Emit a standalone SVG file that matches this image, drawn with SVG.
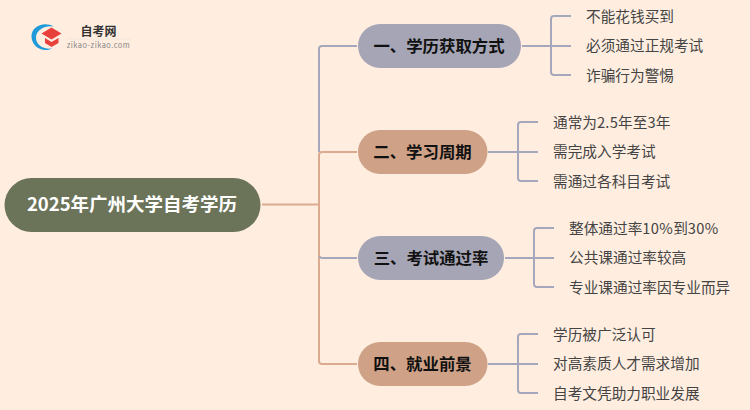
<svg xmlns="http://www.w3.org/2000/svg" width="750" height="410" viewBox="0 0 750 410">
<style>
text{font-family:"Noto Sans CJK SC","Noto Sans",sans-serif}
.c{fill:none;stroke-width:2;stroke-linejoin:round}
.p{stroke:#A5A8BD}
.o{stroke:#DBAA90}
.t{font-size:16.4px;font-weight:700;fill:#111;text-anchor:middle;dominant-baseline:central}
.l{font-size:14.67px;fill:#444;dominant-baseline:central}
</style>
<rect width="750" height="410" fill="#FFEEE0"/>
<g id="connectors">
<path class="c o" d="M262 204.500H319"/>
<path class="c p" d="M357 46H322Q319 46 319 49V152"/>
<path class="c o" d="M357 152H322Q319 152 319 155V205"/>
<path class="c o" d="M319 205V361Q319 364 322 364H357"/>
<path class="c p" d="M357 258H322Q320 258 319.500 256"/>
<path class="c o" d="M319 205V256"/>
<path class="c p" d="M522 46H571M571 16H554Q551 16 551 19V72Q551 75 554 75H571"/>
<path class="c p" d="M488 152H538M538 122H521Q518 122 518 125V178Q518 181 521 181H538"/>
<path class="c p" d="M505 258H554M554 228H537Q534 228 534 231V284Q534 287 537 287H554"/>
<path class="c p" d="M488 364H538M538 334H521Q518 334 518 337V390Q518 393 521 393H538"/>
</g>
<g id="logo">
<path d="M54 26.500C44 21 31 26 31.500 37C32 47 43 53 52 48.500C43 49.500 36 45 36 37.500C36 30 45 25 54 26.500Z" fill="#1E9BD8"/>
<path d="M41.500 33.500L51.500 27.500L61.500 33.500L51.500 39.500Z" fill="#E8413C"/>
<path d="M45 38L51.500 42L58.500 38V43L51.500 47L45 43Z" fill="#E8413C"/>
<text x="98.500" y="30" font-size="12" font-weight="700" fill="#333" text-anchor="middle" dominant-baseline="central">自考网</text>
<path d="M66 39H131" stroke="#F2E6DC" stroke-width="1"/>
<text x="98.500" y="44.500" font-size="7.500" fill="#888" text-anchor="middle" letter-spacing=".45" dominant-baseline="central">zikao-zikao.com</text>
</g>
<g id="root">
<rect x="4.500" y="178" width="256" height="54" rx="27" fill="#6B7359"/>
<text x="132" y="203" font-size="18.500" font-weight="700" fill="#fff" text-anchor="middle" dominant-baseline="central">2025年广州大学自考学历</text>
</g>
<g id="b1">
<rect x="358" y="24" width="163" height="44" rx="22" fill="#A5A5B5"/>
<text class="t" x="439" y="44.500">一、学历获取方式</text>
</g>
<g id="b2">
<rect x="358" y="130" width="129.500" height="44" rx="22" fill="#CFA287"/>
<text class="t" x="422.500" y="150.500">二、学习周期</text>
</g>
<g id="b3">
<rect x="358" y="236" width="146" height="44" rx="22" fill="#A5A5B5"/>
<text class="t" x="431" y="256.500">三、考试通过率</text>
</g>
<g id="b4">
<rect x="358" y="342" width="129.500" height="44" rx="22" fill="#CFA287"/>
<text class="t" x="422.500" y="362.500">四、就业前景</text>
</g>
<g id="l11"><text class="l" x="586" y="15">不能花钱买到</text></g>
<g id="l12"><text class="l" x="586" y="44.500">必须通过正规考试</text></g>
<g id="l13"><text class="l" x="586" y="74">诈骗行为警惕</text></g>
<g id="l21"><text class="l" x="553" y="121">通常为<tspan letter-spacing=".25">2.5</tspan>年至<tspan letter-spacing=".25">3</tspan>年</text></g>
<g id="l22"><text class="l" x="553" y="150.500">需完成入学考试</text></g>
<g id="l23"><text class="l" x="553" y="180">需通过各科目考试</text></g>
<g id="l31"><text class="l" x="569" y="227">整体通过率<tspan letter-spacing=".35">10%</tspan>到<tspan letter-spacing=".35">30%</tspan></text></g>
<g id="l32"><text class="l" x="569" y="256.500">公共课通过率较高</text></g>
<g id="l33"><text class="l" x="569" y="286">专业课通过率因专业而异</text></g>
<g id="l41"><text class="l" x="553" y="333">学历被广泛认可</text></g>
<g id="l42"><text class="l" x="553" y="362.500">对高素质人才需求增加</text></g>
<g id="l43"><text class="l" x="553" y="392">自考文凭助力职业发展</text></g>
</svg>
